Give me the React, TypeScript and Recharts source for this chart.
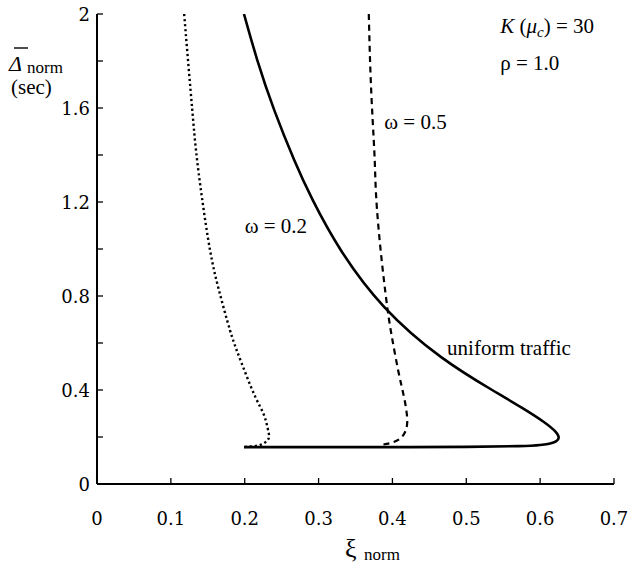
import React from 'react';
import { LineChart, Line, XAxis, YAxis, ReferenceDot, Customized } from 'recharts';

const FONT_A = 'DejaVu Serif';
const FONT_B = 'Liberation Serif';
const TA: React.CSSProperties = { fontFamily: FONT_A };
const TB: React.CSSProperties = { fontFamily: FONT_B };

const xTicks = [0, 0.1, 0.2, 0.3, 0.4, 0.5, 0.6, 0.7];
const yTicks = [0, 0.2, 0.4, 0.6, 0.8, 1.0, 1.2, 1.4, 1.6, 1.8, 2.0];
const yLabelTicks = [0, 0.4, 0.8, 1.2, 1.6, 2];

// uniform traffic (solid)
const uniformX = [0.199, 0.217, 0.24, 0.267, 0.292, 0.33, 0.389, 0.466, 0.535, 0.575, 0.605, 0.621, 0.625, 0.618, 0.6, 0.57, 0.5, 0.4, 0.3, 0.199];
const uniformY = [2.0, 1.804, 1.591, 1.379, 1.209, 0.996, 0.753, 0.54, 0.4, 0.325, 0.264, 0.222, 0.196, 0.177, 0.166, 0.161, 0.158, 0.157, 0.157, 0.157];

// omega = 0.2 (dotted)
const w02X = [0.118, 0.124, 0.129, 0.134, 0.142, 0.153, 0.165, 0.18, 0.19, 0.202, 0.215, 0.226, 0.231, 0.233, 0.23, 0.221, 0.209, 0.199];
const w02Y = [2.0, 1.774, 1.591, 1.421, 1.221, 0.996, 0.826, 0.655, 0.562, 0.464, 0.366, 0.294, 0.238, 0.204, 0.183, 0.166, 0.16, 0.157];

// omega = 0.5 (dashed)
const w05X = [0.368, 0.37, 0.373, 0.376, 0.378, 0.384, 0.393, 0.4, 0.408, 0.415, 0.419, 0.42, 0.417, 0.409, 0.397, 0.384];
const w05Y = [2.0, 1.774, 1.562, 1.379, 1.221, 0.996, 0.753, 0.613, 0.48, 0.38, 0.31, 0.26, 0.22, 0.19, 0.174, 0.166];

const annotations = [
  { x: 0.2, y: 1.1, text: 'ω = 0.2' },
  { x: 0.389, y: 1.54, text: 'ω = 0.5' },
  { x: 0.474, y: 0.579, text: 'uniform traffic' },
  { x: 0.546, y: 1.79, text: 'ρ = 1.0' },
];
const kAnnotation = { x: 0.546, y: 1.949 };

const zip = (xs: number[], ys: number[]) => xs.map((x, i) => ({ x, y: ys[i] }));
const uniformData = zip(uniformX, uniformY);
const w02Data = zip(w02X, w02Y);
const w05Data = zip(w05X, w05Y);

const fmt = (v: number) => String(Math.round(v * 10) / 10);

const BottomTick = (p: any) => {
  const { x, y, payload } = p;
  return (
    <g>
      <line x1={x} y1={y} x2={x} y2={y - 6} stroke="#000" strokeWidth={1.3} />
      <text x={x} y={y + 41} textAnchor="middle" style={TA} fontSize={18} fill="#000">
        {fmt(payload.value)}
      </text>
    </g>
  );
};
const TopTick = (p: any) => {
  const { x, y } = p;
  return <line x1={x} y1={y} x2={x} y2={y + 6} stroke="#000" strokeWidth={1.3} />;
};
const LeftTick = (p: any) => {
  const { x, y, payload } = p;
  const v = payload.value;
  const show = yLabelTicks.some((t) => Math.abs(t - v) < 1e-6);
  return (
    <g>
      <line x1={x} y1={y} x2={x + 6} y2={y} stroke="#000" strokeWidth={1.3} />
      {show && (
        <text x={x - 7} y={y + 7} textAnchor="end" style={TA} fontSize={18} fill="#000">
          {fmt(v)}
        </text>
      )}
    </g>
  );
};
const RightTick = (p: any) => {
  const { x, y } = p;
  return <line x1={x} y1={y} x2={x - 6} y2={y} stroke="#000" strokeWidth={1.3} />;
};

const Titles = () => (
  <g fill="#000">
    <line x1={14} y1={48} x2={28} y2={48} stroke="#000" strokeWidth={1.4} />
    <text x={9} y={71} style={TB} fontSize={22} fontStyle="italic">Δ</text>
    <text x={27} y={73} style={TB} fontSize={17}>norm</text>
    <text x={11} y={94} style={TB} fontSize={21}>(sec)</text>
    <text x={345} y={557} style={TB} fontSize={26}>ξ</text>
    <text x={364} y={560} style={TB} fontSize={17}>norm</text>
  </g>
);

const annLabel = (text: string) => (props: any) => {
  const vb = props.viewBox || {};
  const cx = vb.x + (vb.width || 0) / 2;
  const cy = vb.y + (vb.height || 0) / 2;
  return (
    <text x={cx} y={cy + 7} style={TB} fontSize={21} fill="#000">
      {text}
    </text>
  );
};

const kLabel = (props: any) => {
  const vb = props.viewBox || {};
  const cx = vb.x + (vb.width || 0) / 2;
  const cy = vb.y + (vb.height || 0) / 2;
  return (
    <text x={cx} y={cy + 7} style={TB} fontSize={21} fill="#000">
      <tspan fontStyle="italic">K</tspan>
      <tspan> (</tspan>
      <tspan fontStyle="italic">μ</tspan>
      <tspan fontStyle="italic" fontSize={15} dy={4}>c</tspan>
      <tspan dy={-4}>) = 30</tspan>
    </text>
  );
};

export default function App() {
  return (
    <div style={{ position: 'absolute', left: 0, top: 0, background: '#fff' }}>
      <LineChart width={630} height={572} margin={{ top: 14, right: 16, left: 0, bottom: 0 }}>
        <XAxis
          xAxisId={0}
          type="number"
          dataKey="x"
          domain={[0, 0.7]}
          ticks={xTicks}
          allowDataOverflow
          height={88}
          tickSize={0}
          tickMargin={0}
          tickLine={false}
          axisLine={{ stroke: '#000', strokeWidth: 2 }}
          tick={BottomTick}
          interval={0}
        />
        <XAxis
          xAxisId="top"
          orientation="top"
          type="number"
          domain={[0, 0.7]}
          ticks={xTicks}
          allowDataOverflow
          height={0}
          tickSize={0}
          tickMargin={0}
          tickLine={false}
          axisLine={{ stroke: '#000', strokeWidth: 2 }}
          tick={TopTick}
          interval={0}
        />
        <YAxis
          yAxisId={0}
          type="number"
          dataKey="y"
          domain={[0, 2]}
          ticks={yTicks}
          allowDataOverflow
          width={97}
          tickSize={0}
          tickMargin={0}
          tickLine={false}
          axisLine={{ stroke: '#000', strokeWidth: 2 }}
          tick={LeftTick}
          interval={0}
        />
        <YAxis
          yAxisId="right"
          orientation="right"
          type="number"
          domain={[0, 2]}
          ticks={yTicks}
          allowDataOverflow
          width={0}
          tickSize={0}
          tickMargin={0}
          tickLine={false}
          axisLine={{ stroke: '#000', strokeWidth: 2 }}
          tick={RightTick}
          interval={0}
        />
        <Line
          data={uniformData}
          dataKey="y"
          type="natural"
          stroke="#000"
          strokeWidth={2.6}
          dot={false}
          activeDot={false}
          isAnimationActive={false}
        />
        <Line
          data={w02Data}
          dataKey="y"
          type="natural"
          stroke="#000"
          strokeWidth={2.4}
          strokeDasharray="2.2 2.8"
          dot={false}
          activeDot={false}
          isAnimationActive={false}
        />
        <Line
          data={w05Data}
          dataKey="y"
          type="natural"
          stroke="#000"
          strokeWidth={2.2}
          strokeDasharray="6 4.5"
          dot={false}
          activeDot={false}
          isAnimationActive={false}
        />
        {annotations.map((a) => (
          <ReferenceDot
            key={a.text}
            x={a.x}
            y={a.y}
            r={0}
            fill="none"
            stroke="none"
            ifOverflow="visible"
            label={annLabel(a.text)}
          />
        ))}
        <ReferenceDot
          x={kAnnotation.x}
          y={kAnnotation.y}
          r={0}
          fill="none"
          stroke="none"
          ifOverflow="visible"
          label={kLabel}
        />
        <Customized component={Titles} />
      </LineChart>
    </div>
  );
}
